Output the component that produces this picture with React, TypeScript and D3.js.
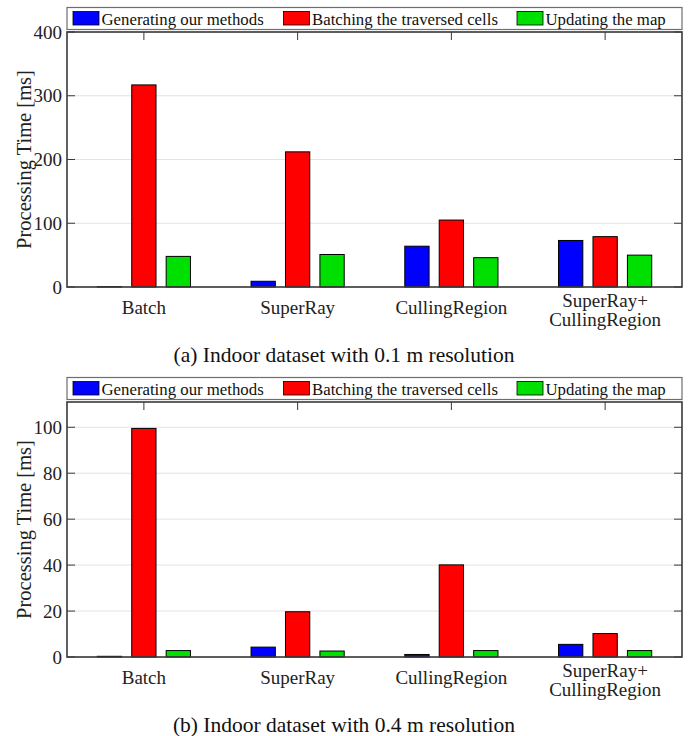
import React from "react";
import { scaleLinear } from "d3";

// categories on the x axis (multi-line labels)
const categories = [["Batch"], ["SuperRay"], ["CullingRegion"], ["SuperRay+", "CullingRegion"]];
const seriesNames = ["Generating our methods", "Batching the traversed cells", "Updating the map"];
const seriesColors = ["#0000ff", "#ff0000", "#00e000"];

// (a) 0.1 m resolution
const fineGenerating = [0.5, 9, 64, 73];
const fineBatching = [317, 212, 105, 79];
const fineUpdating = [48, 51, 46, 50];
const fineTicks = [0, 100, 200, 300, 400];
const fineMax = 400;

// (b) 0.4 m resolution
const coarseGenerating = [0.3, 4.3, 1.1, 5.5];
const coarseBatching = [99.5, 19.7, 40.1, 10.2];
const coarseUpdating = [2.8, 2.6, 2.8, 2.8];
const coarseTicks = [0, 20, 40, 60, 80, 100];
const coarseMax = 111;

const captions = ["(a) Indoor dataset with 0.1 m resolution", "(b) Indoor dataset with 0.4 m resolution"];

const W = 688;
const H = 736;
const font = "'Liberation Serif', 'Times New Roman', serif";
const axisColor = "#3a3a3a";

type PanelProps = {
  offsetY: number;
  series: number[][];
  ticks: number[];
  yMax: number;
  caption: string;
};

function Panel({ offsetY, series, ticks, yMax, caption }: PanelProps) {
  const left = 67, right = 682, top = 32, bottom = 287;
  const x = scaleLinear().domain([0.5, categories.length + 0.5]).range([left, right]);
  const y = scaleLinear().domain([0, yMax]).range([bottom, top]);
  const step = x(2) - x(1);
  const barW = step * 0.158;
  const offsets = [-0.224, 0, 0.224];
  const tickLen = 8;

  // legend layout
  const swatchX = [73, 283.5, 517];

  return (
    <g transform={`translate(0,${offsetY})`}>
      {/* legend */}
      <rect x={left} y={7.5} width={right - left} height={22} fill="#fff" stroke="#6e6e6e" strokeWidth={1.2} />
      {seriesNames.map((name, i) => (
        <g key={name}>
          <rect x={swatchX[i]} y={11.5} width={26} height={13.5} fill={seriesColors[i]} stroke="#000" strokeWidth={0.8} />
          <text x={swatchX[i] + 28.5} y={24.5} fontSize={16.8} fontFamily={font} fill="#111">{name}</text>
        </g>
      ))}

      {/* grid */}
      {ticks.map(t => (
        <line key={"g" + t} x1={left} x2={right} y1={y(t)} y2={y(t)} stroke="#e3e3e3" strokeWidth={1} />
      ))}

      {/* bars */}
      {series.map((vals, s) =>
        vals.map((v, i) => {
          const cx = x(i + 1) + offsets[s] * step;
          return (
            <rect key={`b${s}-${i}`} x={cx - barW / 2} y={y(v)} width={barW} height={y(0) - y(v)}
              fill={seriesColors[s]} stroke="#000" strokeWidth={1} />
          );
        })
      )}

      {/* box */}
      <rect x={left} y={top} width={right - left} height={bottom - top} fill="none" stroke={axisColor} strokeWidth={1.6} />

      {/* y ticks, both sides */}
      {ticks.map(t => (
        <g key={"t" + t}>
          <line x1={left} x2={left + tickLen} y1={y(t)} y2={y(t)} stroke={axisColor} strokeWidth={1} />
          <line x1={right} x2={right - tickLen} y1={y(t)} y2={y(t)} stroke={axisColor} strokeWidth={1} />
          <text x={62} y={y(t)} dy="0.35em" textAnchor="end" fontSize={19} fontFamily={font} fill="#222">{t}</text>
        </g>
      ))}

      {/* x ticks and labels */}
      {categories.map((lines, i) => {
        const cx = x(i + 1);
        const base = lines.length === 1 ? 314 : 306.5;
        return (
          <g key={"c" + i}>
            <line x1={cx} x2={cx} y1={top} y2={top + tickLen} stroke={axisColor} strokeWidth={1} />
            {lines.map((l, k) => (
              <text key={k} x={cx} y={base + k * 19.5} textAnchor="middle" fontSize={19} fontFamily={font} fill="#222">{l}</text>
            ))}
          </g>
        );
      })}

      {/* y label */}
      <text transform={`translate(31,${(top + bottom) / 2}) rotate(-90)`} textAnchor="middle" fontSize={20.5} fontFamily={font} fill="#222">
        Processing Time [ms]
      </text>

      {/* caption */}
      <text x={W / 2} y={362} textAnchor="middle" fontSize={21.5} fontFamily={font} fill="#111">{caption}</text>
    </g>
  );
}

export default function App() {
  return (
    <svg width={W} height={H} style={{ position: "absolute", left: 0, top: 0, background: "#fff" }}>
      <rect width={W} height={H} fill="#fff" />
      <Panel offsetY={0} series={[fineGenerating, fineBatching, fineUpdating]} ticks={fineTicks} yMax={fineMax} caption={captions[0]} />
      <Panel offsetY={370} series={[coarseGenerating, coarseBatching, coarseUpdating]} ticks={coarseTicks} yMax={coarseMax} caption={captions[1]} />
    </svg>
  );
}
